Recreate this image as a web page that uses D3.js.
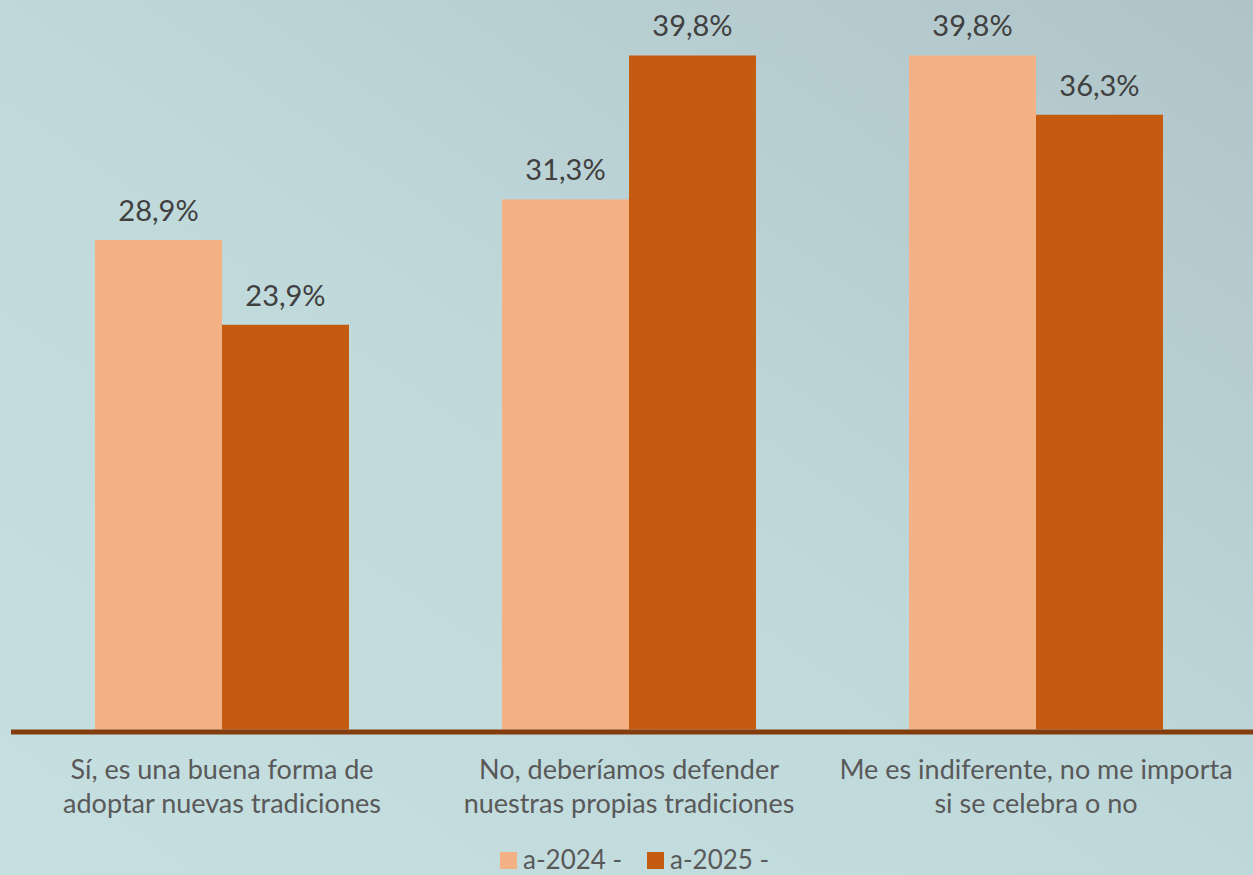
<!DOCTYPE html>
<html>
<head>
<meta charset="utf-8">
<script src="https://cdn.jsdelivr.net/npm/d3@7"></script>
<style>
  body { margin: 0; padding: 0; overflow: hidden; }
  svg { display: block; }
</style>
</head>
<body>
<div id="chart"></div>
<script>
// data
var categories = [
  ["Sí, es una buena forma de", "adoptar nuevas tradiciones"],
  ["No, deberíamos defender", "nuestras propias tradiciones"],
  ["Me es indiferente, no me importa", "si se celebra o no"]
];
var seriesNames = ["a-2024 -", "a-2025 -"];
var values2024 = [28.9, 31.3, 39.8];
var values2025 = [23.9, 39.8, 36.3];
var seriesColors = ["#F4B183", "#C55A11"];

var svgWidth = 1253;
var svgHeight = 875;

var svg = d3.select("#chart")
  .append("svg")
  .attr("width", svgWidth)
  .attr("height", svgHeight);

// background gradient
var defs = svg.append("defs");
var grad = defs.append("linearGradient")
  .attr("id", "bg")
  .attr("x1", "0%").attr("y1", "100%")
  .attr("x2", "100%").attr("y2", "0%");
grad.append("stop").attr("offset", "0%").attr("stop-color", "#c6dfe1");
grad.append("stop").attr("offset", "45%").attr("stop-color", "#c0dadc");
grad.append("stop").attr("offset", "100%").attr("stop-color", "#b0c4c8");
svg.append("rect")
  .attr("width", svgWidth)
  .attr("height", svgHeight)
  .attr("fill", "url(#bg)");

var baseline = 729.5;

var data = categories.map(function(c, i) {
  return { cat: i, vals: [values2024[i], values2025[i]] };
});

var x0 = d3.scaleBand()
  .domain(d3.range(categories.length))
  .range([18.5, 1239.5])
  .paddingInner(0.376)
  .paddingOuter(0.188);

var x1 = d3.scaleBand()
  .domain(d3.range(seriesNames.length))
  .range([0, x0.bandwidth()]);

var y = d3.scaleLinear()
  .domain([0, 40])
  .range([baseline, baseline - 40 * 16.935]);

var groups = svg.selectAll("g.grp")
  .data(data)
  .enter()
  .append("g")
  .attr("class", "grp")
  .attr("transform", d => `translate(${x0(d.cat)},0)`);

groups.selectAll("rect")
  .data(d => d.vals)
  .enter()
  .append("rect")
  .attr("x", (v, i) => x1(i))
  .attr("y", v => y(v))
  .attr("width", x1.bandwidth())
  .attr("height", v => baseline - y(v))
  .attr("fill", (v, i) => seriesColors[i]);

groups.selectAll("text.val")
  .data(d => d.vals)
  .enter()
  .append("text")
  .attr("class", "val")
  .attr("x", (v, i) => x1(i) + x1.bandwidth() / 2)
  .attr("y", v => y(v) - 19)
  .attr("text-anchor", "middle")
  .style("font-family", "Lato, 'Open Sans', sans-serif")
  .style("font-size", "29px")
  .attr("fill", "#404040")
  .text(v => d3.format(".1f")(v).replace(".", ",") + "%");

// axis line
svg.append("line")
  .attr("x1", 11)
  .attr("x2", svgWidth)
  .attr("y1", baseline + 2.5)
  .attr("y2", baseline + 2.5)
  .attr("stroke", "#843C0C")
  .attr("stroke-width", 5);

// category labels
var catText = svg.selectAll("text.cat")
  .data(categories)
  .enter()
  .append("text")
  .attr("class", "cat")
  .attr("text-anchor", "middle")
  .style("font-family", "Lato, 'Open Sans', sans-serif")
  .style("font-size", "27px")
  .attr("fill", "#595959");
catText.selectAll("tspan")
  .data(d => d)
  .enter()
  .append("tspan")
  .attr("x", function() {
    var i = categories.indexOf(d3.select(this.parentNode).datum());
    return x0(i) + x0.bandwidth() / 2;
  })
  .attr("y", (d, j) => 779 + j * 34)
  .text(d => d);

// legend
var legendX = [500, 647];
var legend = svg.selectAll("g.legend")
  .data(seriesNames)
  .enter()
  .append("g")
  .attr("class", "legend")
  .attr("transform", (d, i) => `translate(${legendX[i]},852)`);
legend.append("rect")
  .attr("width", 17)
  .attr("height", 17)
  .attr("fill", (d, i) => seriesColors[i]);
legend.append("text")
  .attr("x", 23)
  .attr("y", 17)
  .style("font-family", "Lato, 'Open Sans', sans-serif")
  .style("font-size", "26px")
  .attr("fill", "#595959")
  .text(d => d);
</script>
</body>
</html>
